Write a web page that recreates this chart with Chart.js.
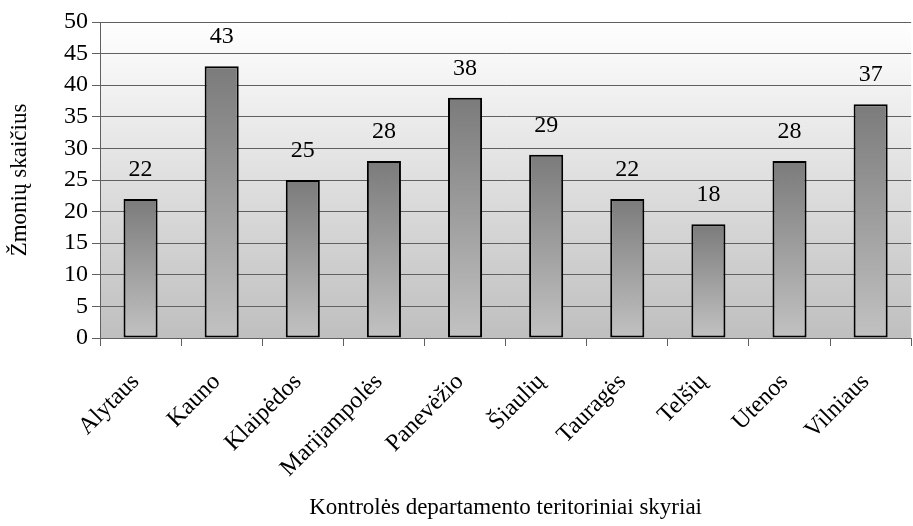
<!DOCTYPE html>
<html>
<head>
<meta charset="utf-8">
<script src="https://cdn.jsdelivr.net/npm/chart.js@4"></script>
<style>
    body { margin: 0; background: #ffffff; }
    #chart { display: block; }
</style>
</head>
<body>
<canvas id="chart" width="913" height="526"></canvas>
<script>
// Chart data
const categories = ['Alytaus', 'Kauno', 'Klaipėdos', 'Marijampolės', 'Panevėžio', 'Šiaulių', 'Tauragės', 'Telšių', 'Utenos', 'Vilniaus'];
const peopleCount = [22, 43, 25, 28, 38, 29, 22, 18, 28, 37];
const yTicks = [0, 5, 10, 15, 20, 25, 30, 35, 40, 45, 50];

const xTitle = 'Kontrolės departamento teritoriniai skyriai';
const yTitle = 'Žmonių skaičius';

const serif = '"Liberation Serif", "Times New Roman", serif';

/**
 * Plot area background: white at top fading to grey at the bottom
 */
const plotBackground = {
    id: 'plotBackground',
    beforeDraw(chart) {
        const { ctx, chartArea } = chart;
        if (!chartArea) return;
        const g = ctx.createLinearGradient(0, chartArea.top, 0, chartArea.bottom);
        g.addColorStop(0, '#ffffff');
        g.addColorStop(1, '#bfbfbf');
        ctx.save();
        ctx.fillStyle = g;
        ctx.fillRect(chartArea.left, chartArea.top, chartArea.right - chartArea.left, chartArea.bottom - chartArea.top);
        ctx.restore();
    }
};

/**
 * Value labels above each bar
 */
const valueLabels = {
    id: 'valueLabels',
    afterDatasetsDraw(chart) {
        const { ctx } = chart;
        const meta = chart.getDatasetMeta(0);
        ctx.save();
        ctx.font = '24px ' + serif;
        ctx.fillStyle = '#000000';
        ctx.textAlign = 'center';
        ctx.textBaseline = 'alphabetic';
        meta.data.forEach((bar, i) => {
            ctx.fillText(String(peopleCount[i]), bar.x, bar.y - 23);
        });
        ctx.restore();
    }
};

// Each bar gets its own dark-to-light vertical gradient
function barGradient(context) {
    const chart = context.chart;
    const yScale = chart.scales.y;
    if (!yScale || context.raw === undefined) return '#999999';
    const top = yScale.getPixelForValue(context.raw);
    const bottom = yScale.getPixelForValue(0);
    if (!isFinite(top) || !isFinite(bottom) || top === bottom) return '#999999';
    const g = chart.ctx.createLinearGradient(0, top, 0, bottom);
    g.addColorStop(0, '#7b7b7b');
    g.addColorStop(1, '#c2c2c2');
    return g;
}

new Chart(document.getElementById('chart'), {
    type: 'bar',
    data: {
        labels: categories,
        datasets: [{
            data: peopleCount,
            backgroundColor: barGradient,
            borderColor: '#000000',
            borderWidth: 2,
            borderSkipped: false,
            barPercentage: 0.42,
            categoryPercentage: 1
        }]
    },
    options: {
        responsive: false,
        animation: false,
        layout: { padding: { top: 22, right: 0, left: 0, bottom: 0 } },
        plugins: {
            legend: { display: false },
            tooltip: { enabled: false }
        },
        scales: {
            x: {
                afterFit(scale) { scale.height = 188; },
                grid: {
                    drawOnChartArea: false,
                    drawTicks: true,
                    tickLength: 8,
                    color: '#606060',
                    offset: true
                },
                border: { color: '#606060', width: 1 },
                ticks: {
                    autoSkip: false,
                    maxRotation: 45,
                    minRotation: 45,
                    padding: 22,
                    labelOffset: -5,
                    color: '#000000',
                    font: { family: serif, size: 24 }
                },
                title: {
                    display: true,
                    text: xTitle,
                    color: '#000000',
                    font: { family: serif, size: 23 },
                    padding: { top: 0, bottom: 4 }
                }
            },
            y: {
                min: 0,
                max: 50,
                afterFit(scale) { scale.width = 100; },
                afterBuildTicks(scale) {
                    scale.ticks = yTicks.map(v => ({ value: v }));
                },
                grid: {
                    color: '#606060',
                    tickLength: 8
                },
                border: { color: '#606060', width: 1 },
                ticks: {
                    autoSkip: false,
                    padding: 4,
                    color: '#000000',
                    font: { family: serif, size: 24 }
                },
                title: {
                    display: true,
                    text: yTitle,
                    color: '#000000',
                    font: { family: serif, size: 23 },
                    padding: { top: 6, bottom: 0 }
                }
            }
        }
    },
    plugins: [plotBackground, valueLabels]
});
</script>
</body>
</html>
